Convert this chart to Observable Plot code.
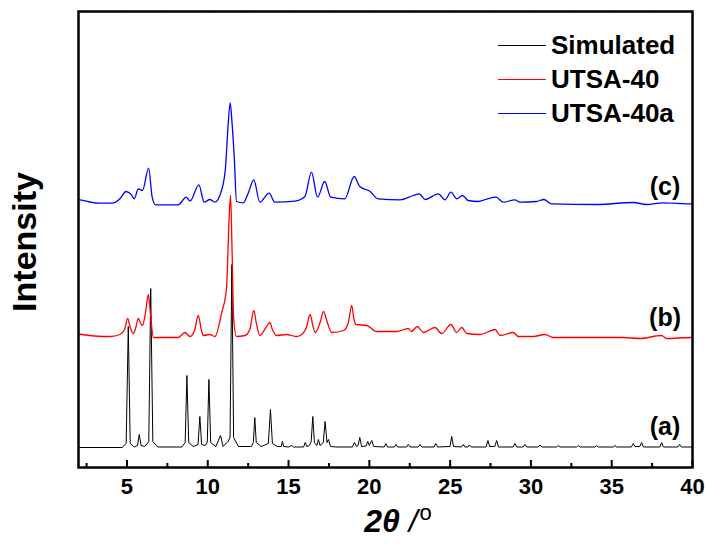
<!DOCTYPE html>
<html>
<head>
<meta charset="utf-8">
<script src="https://cdn.jsdelivr.net/npm/d3@7"></script>
<script src="https://cdn.jsdelivr.net/npm/@observablehq/plot@0.6"></script>
<style>
  html, body { margin: 0; padding: 0; background: #fff; }
  #wrap { position: relative; width: 708px; height: 544px; font-family: "Liberation Sans", Arial, sans-serif; }
  #wrap svg { position: absolute; left: 0; top: 0; }
  .lab { position: absolute; font-weight: bold; color: #000; white-space: nowrap; }
  .leg { position: absolute; left: 498px; width: 48px; height: 0; }
  .legt { position: absolute; left: 551px; font-size: 26px; font-weight: bold; line-height: 1; transform: translateY(-50%); }
</style>
</head>
<body>
<div id="wrap"></div>
<script>
// ---- data (2θ in degrees, intensity in arbitrary units incl. vertical offset) ----
const seriesNames = ["Simulated", "UTSA-40", "UTSA-40a"];
const seriesColors = ["#000000", "#ff0000", "#0000ff"];

const simX = [2.0,4.7,4.95,5.08,5.2,5.45,5.65,5.76,5.87,6.1,6.35,6.47,6.6,6.9,8.4,8.6,8.71,8.82,9.1,9.4,9.51,9.62,9.85,9.97,10.07,10.18,10.5,10.79,10.95,11.25,11.38,11.49,11.6,11.9,12.7,12.82,12.91,13.0,13.3,13.75,13.88,14.0,14.3,14.55,14.62,14.7,15.0,15.2,15.3,15.5,15.93,16.03,16.13,16.3,16.4,16.5,16.6,16.75,16.85,16.95,17.15,17.26,17.38,17.47,17.6,18.0,18.95,19.08,19.2,19.3,19.41,19.52,19.8,19.9,20.0,20.15,20.27,20.92,21.02,21.12,21.55,21.65,21.75,22.3,22.41,22.52,23.03,23.14,23.25,24.0,24.11,24.22,24.99,25.1,25.21,25.7,25.81,25.92,26.1,26.2,26.3,27.22,27.34,27.45,27.76,27.88,27.99,28.9,29.01,29.12,29.52,29.63,29.74,30.45,30.56,30.67,31.58,31.69,31.8,32.82,32.93,33.04,33.96,34.07,34.18,35.09,35.2,35.31,36.22,36.33,36.44,36.74,36.85,36.96,37.98,38.09,38.2,39.09,39.2,39.31,40.0];
const simY = [20,20,24,141,24,20.5,22,33,22,21,26,179,26,20.5,20.5,25,92,25,21,23,51,23,22,25,88,25,21,32,21,26,30,203,30,21,21,25,50,25,21,24,58,24,21,21,26,21,20.5,22,20.5,20.5,20.5,25,21,22,26,51,25,22,28,22,25,46,25,28,21,20.5,20.5,25,21,22,30,21,21.5,26,22,27,21,20.5,24,20.5,20.5,23,20.5,20.5,23,20.5,20.5,23,20.5,20.5,24,20.5,21,31,21,20.5,23,20.5,20.5,22.5,20.5,20.5,27,21,21,27,20.5,20.5,24,20.5,20.5,23,20.5,20.5,22.5,20.5,20.5,22,20.5,20.5,22,20.5,20.5,22,20.5,20.5,22,20.5,20.5,24,21,21,25,20.5,20.5,25,20.5,20.5,23,20.5,20.5];

const expX = [2.0,3.0,3.97,4.57,4.85,5.04,5.2,5.39,5.55,5.7,5.85,5.96,6.15,6.32,6.45,6.63,7.0,8.17,8.59,8.9,9.2,9.41,9.6,9.72,10.13,10.44,10.85,11.16,11.3,11.41,11.5,11.6,11.78,12.3,12.6,12.85,13.0,13.22,13.6,13.84,14.0,14.25,14.87,15.49,15.72,16.1,16.34,16.5,16.65,16.95,17.16,17.4,17.67,18.4,18.7,18.91,19.05,19.18,19.84,20.46,21.28,21.7,22.41,22.6,22.97,23.34,24.06,24.48,25.05,25.4,25.72,26.03,26.85,27.26,27.78,28.09,28.91,29.22,30.14,30.87,31.38,33.65,35.71,36.74,38.09,38.4,39.85,40.0];
const expY = [133.5,131.5,131,133,138,149,140,134,140,149,144,142,155,173,155,130,130,130,135,131,138,152,138,132,133,131,154,179,240,272,220,150,131,132,138,157,145,132,140,145,138,132,133,131,132,140,153,142,135,145,156,145,135,137,145,162,148,143,142,136,136,136,139,136,141,135,140,134,143,135,140,134,133,135,138,132,135,131,131,133,130,130,130,129,132,129,130,130];

const actX = [2.0,2.1,3.22,4.05,4.57,4.94,5.28,5.45,5.7,5.96,6.34,6.56,6.77,8.17,8.67,8.9,9.45,9.78,10.13,10.44,10.85,11.1,11.25,11.39,11.5,11.64,11.78,12.19,12.5,12.85,13.22,13.8,14.15,15.39,16.01,16.42,16.79,17.24,17.61,18.48,19.06,19.41,20.03,20.54,21.9,22.72,23.09,23.45,24.27,24.68,25.05,25.41,25.76,26.12,26.74,27.26,27.84,28.29,29.01,29.32,30.35,30.8,31.28,34.07,36.33,37.16,38.18,39.95,40.0];
const actY = [268,267.7,264.3,264.3,268.7,276,272.7,268.7,278.7,277,299.3,270.3,262.7,262.7,270.3,266.3,282.7,265.3,268,265.3,277,300.3,340,364.7,345,310.3,266,264.7,274.3,287.7,265.3,274.3,265.3,266.3,271,295.3,270.3,286,270.3,268.7,291,281,276.3,268.7,267.7,272,273.7,268,273.7,267.7,275.3,268.7,272,267,266,268.3,270.3,265.3,267.7,265.3,266,268,263.7,263,265,263,264.7,263.7,263.7];

const traceLabels = ["(a)", "(b)", "(c)"];
const traceLabelX = [38.3, 38.3, 38.3];
const traceLabelY = [41, 150, 281];

const majorTicks = [5, 10, 15, 20, 25, 30, 35, 40];
const minorTicks = [2.5, 7.5, 12.5, 17.5, 22.5, 27.5, 32.5, 37.5];
const allTopTicks = [2.5, 5, 7.5, 10, 12.5, 15, 17.5, 20, 22.5, 25, 27.5, 30, 32.5, 35, 37.5, 40];

// ---- build tables ----
const sim = simX.map((x, i) => ({x, y: simY[i]}));
const exp = expX.map((x, i) => ({x, y: expY[i]}));
const act = actX.map((x, i) => ({x, y: actY[i]}));
const labels = traceLabels.map((t, i) => ({t, x: traceLabelX[i], y: traceLabelY[i]}));

const W = 708, H = 544, mTop = 11, mBottom = 77, mLeft = 78, mRight = 16;
const innerH = H - mTop - mBottom;

const chart = Plot.plot({
  width: W, height: H,
  marginTop: mTop, marginBottom: mBottom, marginLeft: mLeft, marginRight: mRight,
  style: {fontFamily: '"Liberation Sans", Arial, sans-serif', background: "white"},
  x: {domain: [2, 40]},
  y: {domain: [0, innerH], axis: null},
  marks: [
    Plot.line(sim, {x: "x", y: "y", stroke: seriesColors[0], strokeWidth: 1}),
    Plot.line(exp, {x: "x", y: "y", stroke: seriesColors[1], strokeWidth: 1.3, curve: "monotone-x"}),
    Plot.line(act, {x: "x", y: "y", stroke: seriesColors[2], strokeWidth: 1.3, curve: "monotone-x"}),
    Plot.text(labels, {x: "x", y: "y", text: "t", fontSize: 25, fontWeight: "bold", fill: "#000", textAnchor: "middle"}),
    Plot.tickX(majorTicks, {x: d => d, insetTop: innerH - 7, stroke: "#000", strokeWidth: 2}),
    Plot.tickX(minorTicks, {x: d => d, insetTop: innerH - 4, stroke: "#000", strokeWidth: 2}),
    Plot.axisX(majorTicks, {anchor: "bottom", tickSize: 0, tickPadding: 11, fontSize: 22, fontWeight: "bold", tickFormat: d => String(d), label: null}),
    Plot.axisX(allTopTicks, {anchor: "top", tickSize: 2, text: null, stroke: "#999", label: null}),
    Plot.frame({stroke: "#000", strokeWidth: 2.5})
  ]
});

const wrap = document.getElementById("wrap");
wrap.appendChild(chart);

// axis titles
const yTitle = document.createElement("div");
yTitle.className = "lab";
yTitle.textContent = "Intensity";
yTitle.style.cssText += "left:24px;top:242px;font-size:34px;line-height:1;transform:translate(-50%,-50%) rotate(-90deg);";
wrap.appendChild(yTitle);

const xTitle = document.createElement("div");
xTitle.className = "lab";
xTitle.innerHTML = '<i>2θ</i> <i style="font-weight:normal">/</i><span style="font-size:22px;position:relative;top:-12px;font-style:normal;font-weight:normal;margin-left:2px">o</span>';
xTitle.style.cssText += "left:398px;top:521px;font-size:32px;line-height:1;transform:translate(-50%,-50%);";
wrap.appendChild(xTitle);

// legend
const legY = [45, 79, 113];
seriesNames.forEach((name, i) => {
  const ln = document.createElement("div");
  ln.className = "leg";
  ln.style.top = legY[i] + "px";
  ln.style.borderTop = `1.5px solid ${seriesColors[i]}`;
  wrap.appendChild(ln);
  const t = document.createElement("div");
  t.className = "legt";
  t.style.top = legY[i] + "px";
  t.textContent = name;
  wrap.appendChild(t);
});
</script>
</body>
</html>
